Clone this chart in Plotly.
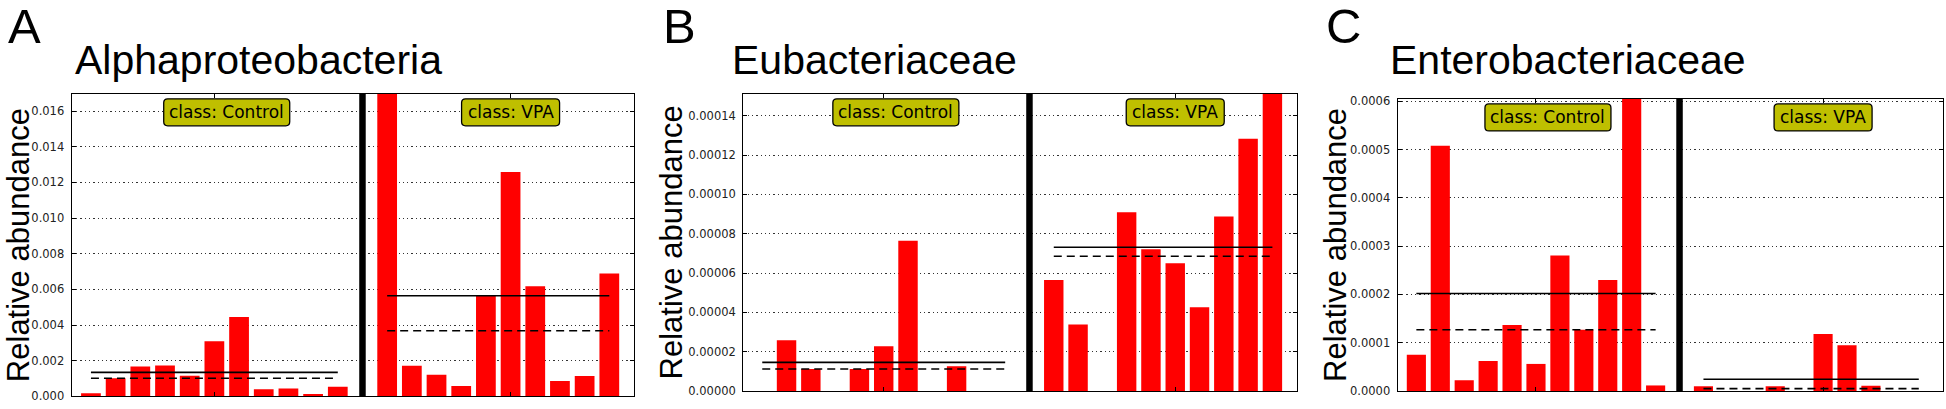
import plotly.graph_objects as go

W, H = 1946, 409

# Relative abundance per sample (Control: 11 samples, VPA: 10 samples)
panel_letters = ["A", "B", "C"]
panel_titles = ["Alphaproteobacteria", "Eubacteriaceae", "Enterobacteriaceae"]
class_names = ["Control", "VPA"]

a_control = [0.00018, 0.00102, 0.00168, 0.00173, 0.00116, 0.00310, 0.00446, 0.00041, 0.00044, 0.00014, 0.00055]
a_vpa = [0.01960, 0.00172, 0.00122, 0.00059, 0.00565, 0.01259, 0.00618, 0.00087, 0.00115, 0.00689]

b_control = [0, 2.58e-5, 1.12e-5, 0, 1.12e-5, 2.28e-5, 7.65e-5, 0, 1.26e-5, 0, 0]
b_vpa = [5.65e-5, 3.39e-5, 0, 9.09e-5, 7.21e-5, 6.50e-5, 4.26e-5, 8.88e-5, 12.83e-5, 15.30e-5]

c_control = [7.5e-5, 50.8e-5, 2.22e-5, 6.22e-5, 13.65e-5, 5.61e-5, 28.04e-5, 12.7e-5, 22.97e-5, 71.3e-5, 1.15e-5]
c_vpa = [0.98e-5, 0, 0, 0.98e-5, 0, 11.8e-5, 9.5e-5, 1.1e-5, 0, 0]

y_max = [0.01697, 0.0001512, 0.000605]
y_dtick = [0.002, 0.00002, 0.0001]
y_format = [".3f", ".5f", ".4f"]

# pixel boxes of each plot area: left, right, top, bottom
boxes = [(71.7, 634.0, 92.3, 403.3), (743.3, 1296.7, 92.3, 397.7), (1397.7, 1942.7, 97.5, 397.7)]
letter_x = [6, 661, 1324]
title_x = [73, 730, 1388]
ylabel_x = [18, 671, 1336]

data = [(a_control, a_vpa), (b_control, b_vpa), (c_control, c_vpa)]


def median(v):
    s = sorted(v)
    n = len(s)
    return s[n // 2] if n % 2 else (s[n // 2 - 1] + s[n // 2]) / 2


def rounded_box(half_w, top, bottom, r=4):
    x0, x1, y1, y0 = -half_w, half_w, top, bottom
    return (f"M{x0+r},{y1} L{x1-r},{y1} Q{x1},{y1} {x1},{y1-r} L{x1},{y0+r} "
            f"Q{x1},{y0} {x1-r},{y0} L{x0+r},{y0} Q{x0},{y0} {x0},{y0+r} "
            f"L{x0},{y1-r} Q{x0},{y1} {x0+r},{y1} Z")


fig = go.Figure()
shapes = []
annotations = []
tick_font = dict(family="DejaVu Sans", size=11.5, color="#222")

for i, (ctrl, vpa) in enumerate(data):
    sfx = "" if i == 0 else str(i + 1)
    xr, yr = "x" + sfx, "y" + sfx
    nc, nv = len(ctrl), len(vpa)
    xc = list(range(nc))
    xv = list(range(nc + 1, nc + 1 + nv))
    sep = nc

    fig.add_trace(go.Bar(x=xc + xv, y=ctrl + vpa, width=0.8, marker=dict(color="#ff0000", line_width=0),
                         xaxis=xr, yaxis=yr, showlegend=False))
    for xs, vals in ((xc, ctrl), (xv, vpa)):
        m = sum(vals) / len(vals)
        md = median(vals)
        fig.add_trace(go.Scatter(x=[xs[0], xs[-1]], y=[m, m], mode="lines",
                                 line=dict(color="black", width=1.6), xaxis=xr, yaxis=yr, showlegend=False))
        fig.add_trace(go.Scatter(x=[xs[0], xs[-1]], y=[md, md], mode="lines",
                                 line=dict(color="black", width=1.6, dash="8px,5px"),
                                 xaxis=xr, yaxis=yr, showlegend=False))

    l, r, t, b = boxes[i]
    x_lo = -0.78
    x_hi = nc + nv + 1
    fig.update_layout(**{
        "xaxis" + sfx: dict(domain=[l / W, r / W], range=[x_lo, x_hi], anchor=yr,
                            tickvals=[(nc - 1) / 2, nc + 1 + nv / 2],
                            showticklabels=False, ticks="inside", ticklen=4, tickcolor="black",
                            showline=True, linecolor="black", linewidth=1.3, mirror="ticks",
                            showgrid=False, zeroline=False, fixedrange=True),
        "yaxis" + sfx: dict(domain=[1 - b / H, 1 - t / H], range=[0, y_max[i]], anchor=xr,
                            dtick=y_dtick[i], tick0=0, tickformat=y_format[i], tickfont=tick_font,
                            ticks="inside", ticklen=4, tickcolor="black", ticklabelstandoff=4,
                            showline=True, linecolor="black", linewidth=1.3, mirror="ticks",
                            showgrid=True, gridcolor="#333", gridwidth=1, griddash="1.3px,3px",
                            zeroline=False, fixedrange=True),
    })

    # thick separator between the two classes
    shapes.append(dict(type="line", xref=xr, yref=yr + " domain", x0=sep, x1=sep, y0=0, y1=1,
                       line=dict(color="black", width=6.5)))

    # class label boxes
    for cname, cx, half in ((class_names[0], nc / 2, 63), (class_names[1], nc + 1 + nv / 2, 49)):
        shapes.append(dict(type="path", xref=xr, yref=yr + " domain", xsizemode="pixel", ysizemode="pixel",
                           xanchor=cx, yanchor=1, path=rounded_box(half, -5, -32),
                           fillcolor="#bfbf00", line=dict(color="black", width=1.3)))
        annotations.append(dict(x=cx, y=1, xref=xr, yref=yr + " domain", yshift=-18.5,
                                text=f"class: {cname}", showarrow=False, xanchor="center", yanchor="middle",
                                font=dict(family="DejaVu Sans", size=17, color="black")))

    # panel letter, title and y label
    annotations.append(dict(x=letter_x[i] / W, y=1 - 23 / H, xref="paper", yref="paper", text=panel_letters[i],
                            showarrow=False, xanchor="left", yanchor="middle",
                            font=dict(family="Liberation Sans, Arial", size=49, color="black")))
    annotations.append(dict(x=title_x[i] / W, y=1 - 58 / H, xref="paper", yref="paper", text=panel_titles[i],
                            showarrow=False, xanchor="left", yanchor="middle",
                            font=dict(family="Liberation Sans, Arial", size=41, color="black")))
    annotations.append(dict(x=ylabel_x[i] / W, y=1 - (t + b) / 2 / H, xref="paper", yref="paper",
                            text="Relative abundance", textangle=-90, showarrow=False,
                            xanchor="center", yanchor="middle",
                            font=dict(family="Liberation Sans, Arial", size=31, color="black")))

fig.update_layout(width=W, height=H, margin=dict(l=0, r=0, t=0, b=0),
                  plot_bgcolor="white", paper_bgcolor="white",
                  shapes=shapes, annotations=annotations, showlegend=False, barmode="overlay")

# drop the page's default body margin so the figure sits at the window's corner
fig.write_html("out.html", config={"displayModeBar": False},
               post_script="document.body.style.margin='0';")
